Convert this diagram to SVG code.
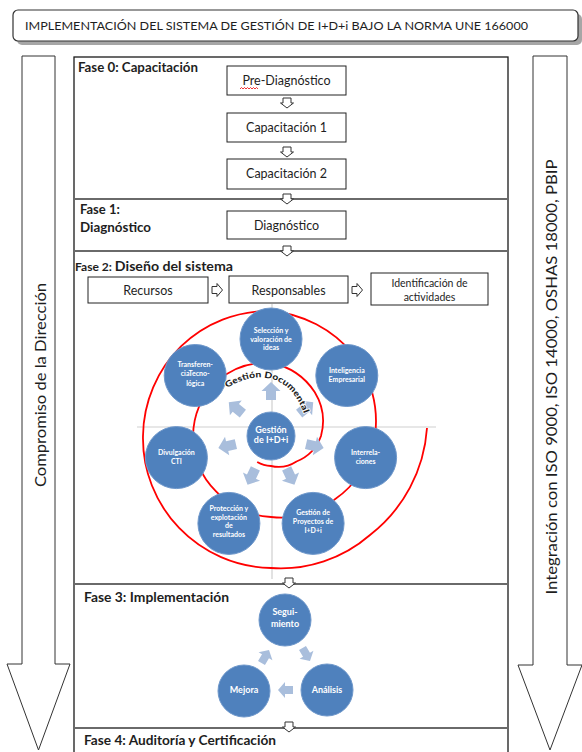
<svg xmlns="http://www.w3.org/2000/svg" width="582" height="752" viewBox="0 0 582 752">
<defs>
<style>
text{font-family:Lato,"Open Sans","Noto Sans",sans-serif;fill:#1e1e1e}
.box{fill:#fff;stroke:#222;stroke-width:1}
.phase{stroke:#6a6a6a;stroke-width:2}
.lbl{font-weight:700;font-size:13px}
.bt{font-size:12.5px;text-anchor:middle}
.bc{fill:#4f81bd;stroke:#6f98cb;stroke-width:1}
.ct{fill:#fff;font-weight:700;font-size:7px;text-anchor:middle}
.cc{fill:#fff;font-weight:700;font-size:9px;text-anchor:middle}
.la{fill:#a9bedc}
.hollow{fill:#fff;stroke:#333;stroke-width:1}
.big{font-size:15.5px;text-anchor:middle}
</style>
<path id="da" d="M-4,0H4V5H6.5L0,10L-6.5,5H-4Z"/>
<path id="ra" d="M0,-3.5H5V-6.5L10.5,0L5,6.5V3.5H0Z"/>
<path id="oa" d="M36,-5H45V-9.5L54,0L45,9.5V5H36Z"/>
<path id="sa" d="M-7,-4H1V-8L8,0L1,8V4H-7Z"/>
<path id="gd" d="M227,388 C250,373 288,368 304,414"/>
</defs>
<rect width="582" height="752" fill="#fff"/>

<g id="title">
<rect x="17" y="14" width="565" height="31" rx="5" fill="#a6a6a6"/>
<rect x="13" y="10" width="565" height="31" rx="5" fill="#fff" stroke="#333" stroke-width="1.2"/>
<text x="25" y="30" font-size="12" textLength="503" lengthAdjust="spacingAndGlyphs">IMPLEMENTACIÓN DEL SISTEMA DE GESTIÓN DE I+D+i BAJO LA NORMA UNE 166000</text>
</g>

<g id="arrow-direccion">
<path d="M22,56H55V664H70L38.5,750L7,664H22Z" fill="#fff" stroke="#333"/>
<text class="big" transform="translate(46,385) rotate(-90)" textLength="204" lengthAdjust="spacingAndGlyphs">Compromiso de la Dirección</text>
</g>

<g id="arrow-integracion">
<path d="M533,56H567V665H582L550,750L518,665H533Z" fill="#fff" stroke="#333"/>
<text class="big" transform="translate(557,377) rotate(-90)" textLength="435" lengthAdjust="spacingAndGlyphs">Integración con ISO 9000, ISO 14000, OSHAS 18000, PBIP</text>
</g>

<g id="frame">
<rect x="74" y="57" width="434" height="710" fill="#fff" stroke="#1a1a1a" stroke-width="1.3"/>
<line class="phase" x1="74" y1="199" x2="508" y2="199"/>
<line class="phase" x1="74" y1="251" x2="508" y2="251"/>
<line class="phase" x1="74" y1="584" x2="508" y2="584"/>
<line class="phase" x1="74" y1="728" x2="508" y2="728"/>
</g>

<g id="fase0">
<text x="78" y="72" class="lbl" textLength="120" lengthAdjust="spacingAndGlyphs">Fase 0: Capacitación</text>
</g>
<g id="pre-diagnostico">
<rect class="box" x="227" y="66" width="119" height="29"/>
<text class="bt" x="286.5" y="84.5">Pre-Diagnóstico</text>
<path d="M240,89l1.5,-1.5l1.5,1.5l1.5,-1.5l1.5,1.5l1.5,-1.5l1.5,1.5l1.5,-1.5l1.5,1.5l1.5,-1.5l1.5,1.5l1.5,-1.5l1.5,1.5" fill="none" stroke="#e00" stroke-width="0.8"/>
</g>
<g id="capacitacion1">
<rect class="box" x="227" y="113" width="119" height="29"/>
<text class="bt" x="286.5" y="131.5">Capacitación 1</text>
</g>
<g id="capacitacion2">
<rect class="box" x="227" y="159" width="119" height="30"/>
<text class="bt" x="286.5" y="178">Capacitación 2</text>
</g>

<g id="fase1">
<text x="80" y="214" class="lbl">Fase 1:</text>
<text x="80" y="232" class="lbl" textLength="71" lengthAdjust="spacingAndGlyphs">Diagnóstico</text>
</g>
<g id="diagnostico">
<rect class="box" x="227" y="211" width="119" height="28"/>
<text class="bt" x="286.5" y="229.5">Diagnóstico</text>
</g>

<g id="fase2">
<text x="75" y="271" font-weight="700" textLength="158" lengthAdjust="spacingAndGlyphs"><tspan font-size="11.5">Fase 2: </tspan><tspan font-size="13.5">Diseño del sistema</tspan></text>
</g>
<g id="recursos">
<rect class="box" x="88" y="277" width="120" height="26"/>
<text class="bt" x="148" y="294.5">Recursos</text>
</g>
<g id="responsables">
<rect class="box" x="229" y="276" width="119" height="27"/>
<text class="bt" x="288.5" y="294.5">Responsables</text>
</g>
<g id="identificacion">
<rect class="box" x="371" y="273" width="117" height="32"/>
<text x="429.5" y="287" font-size="10.5" text-anchor="middle">Identificación de</text>
<text x="429.5" y="301" font-size="10.5" text-anchor="middle">actividades</text>
</g>

<g id="ciclo-fondo">
<line x1="137" y1="427" x2="436" y2="427" stroke="#cfcfcf" stroke-width="1.2"/>
<line x1="272" y1="304" x2="272" y2="579" stroke="#cfcfcf" stroke-width="1.2"/>
<path d="M257.2,462 A29.75,29.75 0 0 0 271,466 A33,33 0 0 0 296.5,461.5 A43,43 0 0 0 321,436 A56,56 0 0 0 314.8,392.2 A67.5,67.5 0 0 0 271,363 A75,75 0 0 0 216.6,381.6 A77.5,77.5 0 0 0 193,436 A78,78 0 0 0 215.8,491.2 A79.5,79.5 0 0 0 271,517 A85.5,85.5 0 0 0 334.6,499.6 A97,97 0 0 0 375,436 A110,110 0 0 0 353,354 A120.5,120.5 0 0 0 271,311 A126,126 0 0 0 181.2,346.2 A127.5,127.5 0 0 0 143,436 A129,129 0 0 0 179.1,527.9 A131,131 0 0 0 271,568 A136,136 0 0 0 370,535 A148,148 0 0 0 427,428" fill="none" stroke="#f00" stroke-width="1.8"/>
</g>

<g id="connectors">
<use href="#da" class="hollow" x="287" y="98"/>
<use href="#da" class="hollow" x="287" y="147"/>
<use href="#da" class="hollow" x="287" y="194"/>
<use href="#da" class="hollow" x="287" y="246"/>
<use href="#da" class="hollow" x="289" y="578"/>
<use href="#da" class="hollow" x="289" y="722"/>
<use href="#ra" class="hollow" x="212" y="290"/>
<use href="#ra" class="hollow" x="352" y="290"/>
<g class="la" transform="translate(271,436)">
<use href="#oa" transform="rotate(-90)"/>
<use href="#oa" transform="rotate(-38.57)"/>
<use href="#oa" transform="rotate(12.86)"/>
<use href="#oa" transform="rotate(64.29)"/>
<use href="#oa" transform="rotate(115.71)"/>
<use href="#oa" transform="rotate(167.14)"/>
<use href="#oa" transform="rotate(218.57)"/>
</g>
<g class="la">
<use href="#sa" transform="translate(306,654) rotate(60)"/>
<use href="#sa" transform="translate(286,690) rotate(180)"/>
<use href="#sa" transform="translate(265,657) rotate(-60)"/>
</g>
</g>

<g id="gestion-central">
<circle class="bc" cx="271" cy="436" r="24"/>
<text class="cc" x="271" y="433">Gestión</text>
<text class="cc" x="271" y="443">de I+D+i</text>
</g>
<g id="seleccion">
<circle class="bc" cx="271" cy="339" r="31"/>
<text class="ct" x="271" y="333">Selección y</text>
<text class="ct" x="271" y="341.5">valoración de</text>
<text class="ct" x="271" y="350">ideas</text>
</g>
<g id="inteligencia">
<circle class="bc" cx="346.8" cy="375.5" r="31"/>
<text class="ct" x="346.8" y="373">Inteligencia</text>
<text class="ct" x="346.8" y="382">Empresarial</text>
</g>
<g id="interrelaciones">
<circle class="bc" cx="365.6" cy="457.6" r="31"/>
<text class="ct" x="365.6" y="455">Interrela-</text>
<text class="ct" x="365.6" y="464">ciones</text>
</g>
<g id="gestion-proyectos">
<circle class="bc" cx="313.1" cy="523.4" r="31"/>
<text class="ct" x="313.1" y="515">Gestión de</text>
<text class="ct" x="313.1" y="524">Proyectos de</text>
<text class="ct" x="313.1" y="532.7">I+D+i</text>
</g>
<g id="proteccion">
<circle class="bc" cx="228.9" cy="523.4" r="31"/>
<text class="ct" x="228.9" y="511">Protección y</text>
<text class="ct" x="228.9" y="520">explotación</text>
<text class="ct" x="228.9" y="528.3">de</text>
<text class="ct" x="228.9" y="537.3">resultados</text>
</g>
<g id="divulgacion">
<circle class="bc" cx="176.4" cy="457.6" r="31"/>
<text class="ct" x="176.4" y="455">Divulgación</text>
<text class="ct" x="176.4" y="464">CTI</text>
</g>
<g id="transferencia">
<circle class="bc" cx="195.2" cy="375.5" r="31"/>
<text class="ct" x="195.2" y="367">Transferen-</text>
<text class="ct" x="195.2" y="376">ciaTecno-</text>
<text class="ct" x="195.2" y="385.5">lógica</text>
</g>
<g id="gestion-documental">
<text font-size="8.5" font-weight="900" fill="#000" stroke="#fff" stroke-width="1.5" paint-order="stroke"><textPath href="#gd" textLength="96" lengthAdjust="spacingAndGlyphs">Gestión Documental</textPath></text>
</g>

<g id="fase3">
<text x="84" y="602" class="lbl" font-size="14" textLength="145" lengthAdjust="spacingAndGlyphs">Fase 3: Implementación</text>
</g>
<g id="seguimiento">
<circle class="bc" cx="285" cy="620" r="26"/>
<text class="cc" x="285" y="615">Segui-</text>
<text class="cc" x="285" y="626.5">miento</text>
</g>
<g id="analisis">
<circle class="bc" cx="327" cy="690" r="26"/>
<text class="cc" x="327" y="693.3">Análisis</text>
</g>
<g id="mejora">
<circle class="bc" cx="244" cy="691" r="26"/>
<text class="cc" x="244" y="693.3">Mejora</text>
</g>

<g id="fase4">
<text x="84" y="745" class="lbl" font-size="14" textLength="192" lengthAdjust="spacingAndGlyphs">Fase 4: Auditoría y Certificación</text>
</g>
</svg>
